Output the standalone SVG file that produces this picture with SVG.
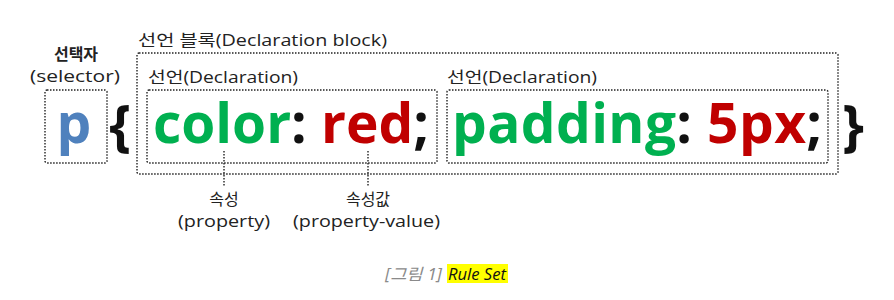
<svg xmlns="http://www.w3.org/2000/svg" width="894" height="300" viewBox="0 0 894 300">
  <style>
    .box { fill: none; stroke: #222; stroke-width: 1.4; stroke-dasharray: 1.5 1.5; }
    .lead { stroke: #222; stroke-width: 1.4; stroke-dasharray: 1.5 1.5; }
    .lbl { font-family: "Open Sans", "Noto Sans CJK KR", sans-serif; font-size: 16px; fill: #222; }
    .code { font-family: "Open Sans", "Noto Sans", sans-serif; font-weight: bold; font-size: 55px; }
    .prop { fill: #00b050; }
    .val { fill: #c00000; }
    .punc { fill: #111; }
  </style>

  <!-- selector -->
  <g id="selector">
    <text class="lbl" x="76" y="60" text-anchor="middle" font-weight="bold" font-size="15">선택자</text>
    <text class="lbl" x="30" y="82" textLength="90" lengthAdjust="spacingAndGlyphs">(selector)</text>
    <rect class="box" x="45" y="90" width="62" height="73" rx="2"/>
    <text class="code" x="74" y="143" text-anchor="middle" fill="#4f81bd">p</text>
  </g>

  <!-- braces -->
  <text class="code punc" x="120" y="145" text-anchor="middle">{</text>
  <text class="code punc" x="853" y="145" text-anchor="middle">}</text>

  <!-- declaration block -->
  <g id="declaration-block">
    <text class="lbl" x="138" y="46" textLength="249" lengthAdjust="spacingAndGlyphs">선언 블록(Declaration block)</text>
    <rect class="box" x="137" y="53" width="701" height="121" rx="2"/>
  </g>

  <!-- first declaration -->
  <g id="declaration-1">
    <text class="lbl" x="148" y="83" textLength="150" lengthAdjust="spacingAndGlyphs">선언(Declaration)</text>
    <rect class="box" x="147" y="90" width="290" height="73" rx="2"/>
    <text class="code" x="153" y="143" textLength="276" lengthAdjust="spacing"><tspan class="prop">color</tspan><tspan class="punc">: </tspan><tspan class="val">red</tspan><tspan class="punc">;</tspan></text>
  </g>

  <!-- second declaration -->
  <g id="declaration-2">
    <text class="lbl" x="447" y="83" textLength="150" lengthAdjust="spacingAndGlyphs">선언(Declaration)</text>
    <rect class="box" x="447" y="90" width="381" height="73" rx="2"/>
    <text class="code" x="452" y="143" textLength="370" lengthAdjust="spacing"><tspan class="prop">padding</tspan><tspan class="punc">: </tspan><tspan class="val">5px</tspan><tspan class="punc">;</tspan></text>
  </g>

  <!-- leader lines -->
  <g id="connectors">
    <line class="lead" x1="224" y1="151" x2="224" y2="187"/>
    <line class="lead" x1="368" y1="151" x2="368" y2="187"/>
  </g>

  <g id="property-label">
    <text class="lbl" x="224" y="205" text-anchor="middle">속성</text>
    <text class="lbl" x="178" y="227" textLength="92" lengthAdjust="spacingAndGlyphs">(property)</text>
  </g>
  <g id="value-label">
    <text class="lbl" x="368" y="205" text-anchor="middle">속성값</text>
    <text class="lbl" x="293" y="227" textLength="147" lengthAdjust="spacingAndGlyphs">(property-value)</text>
  </g>

  <!-- caption -->
  <g id="caption">
    <rect x="447" y="264" width="61" height="19" fill="#ffff00"/>
    <text x="385" y="280" textLength="57" lengthAdjust="spacingAndGlyphs" font-family="Open Sans, Noto Sans CJK KR, sans-serif" font-style="italic" font-size="16" fill="#8a8a8a">[그림 1]</text>
    <text x="448" y="280" textLength="58" lengthAdjust="spacingAndGlyphs" font-family="Open Sans, sans-serif" font-style="italic" font-size="16" fill="#111">Rule Set</text>
  </g>
</svg>
